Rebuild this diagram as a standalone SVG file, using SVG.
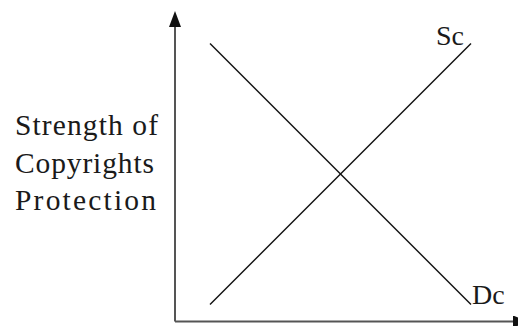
<svg xmlns="http://www.w3.org/2000/svg" width="518" height="326" viewBox="0 0 518 326">
<style>
  text { font-family: "Liberation Serif", "Times New Roman", serif; font-size: 28px; fill: #1a1a1a; }
  .side { font-size: 29.5px; }
  .axis { stroke: #555; stroke-width: 2; fill: none; }
  .curve { stroke: #111; stroke-width: 1.4; fill: none; }
</style>
<defs>
  <marker id="arrow" markerUnits="userSpaceOnUse" markerWidth="16" markerHeight="12" refX="0" refY="6" orient="auto">
    <path d="M0,0 L16,6 L0,12 Z" fill="#111"/>
  </marker>
</defs>
<rect width="518" height="326" fill="#fff"/>
<g id="connectors">
  <line id="y-axis" class="axis" x1="175" y1="321.5" x2="175" y2="27" marker-end="url(#arrow)"/>
  <line id="x-axis" class="axis" x1="175" y1="321.5" x2="513" y2="321.5" marker-end="url(#arrow)"/>
  <line id="curve-dc" class="curve" x1="210" y1="43.5" x2="471" y2="304.5"/>
  <line id="curve-sc" class="curve" x1="210" y1="304.5" x2="471" y2="43.5"/>
</g>
<g id="label-axis">
  <text class="side" x="15" y="135" textLength="143" lengthAdjust="spacing">Strength of</text>
  <text class="side" x="15" y="172.5" textLength="139" lengthAdjust="spacing">Copyrights</text>
  <text class="side" x="15" y="210" textLength="141" lengthAdjust="spacing">Protection</text>
</g>
<g id="label-sc">
  <text x="436" y="45">Sc</text>
</g>
<g id="label-dc">
  <text x="472" y="304">Dc</text>
</g>
</svg>
